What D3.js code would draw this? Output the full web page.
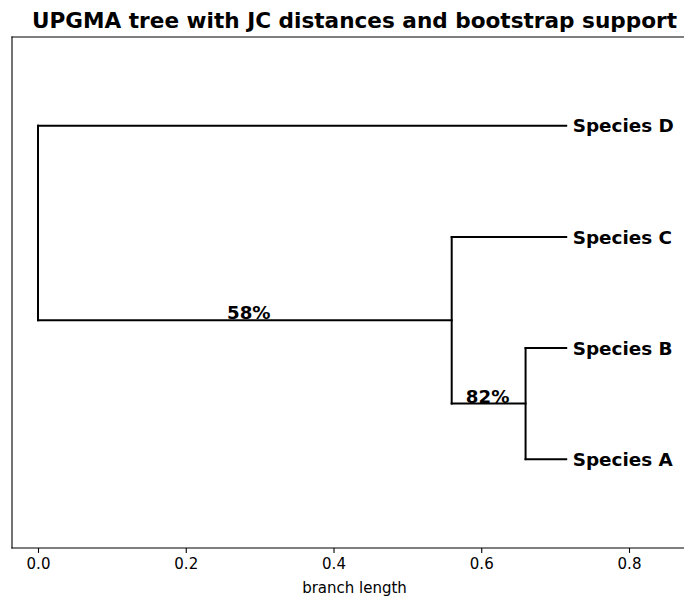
<!DOCTYPE html>
<html>
<head>
<meta charset="utf-8">
<script src="https://cdn.jsdelivr.net/npm/d3@7"></script>
<style>
  html, body { margin: 0; padding: 0; background: #fff; overflow: hidden; }
  svg { display: block; font-family: "DejaVu Sans", sans-serif; }
</style>
</head>
<body>
<svg id="chart" width="684" height="596"></svg>
<script>
// Tree topology: each node with its parent and the length of the branch above it
const nodeIds     = ["root", "ABC", "AB", "Species A", "Species B", "Species C", "Species D"];
const parentIds   = [null,   "root", "ABC", "AB",       "AB",        "ABC",       "root"];
const branchLens  = [0,      0.560,  0.100, 0.055,      0.055,       0.155,       0.715];
// Bootstrap support shown on the branch leading to each clade
const supportNode = ["ABC", "AB"];
const supportPct  = [58, 82];
// Leaf order from the bottom of the plot upwards
const leafOrder   = ["Species A", "Species B", "Species C", "Species D"];
const xTicks      = [0.0, 0.2, 0.4, 0.6, 0.8];

const svg = d3.select("#chart");
// The axes box runs past the right edge of the figure, so only three sides show
const plot = { left: 12, right: 697, top: 37, bottom: 548 };

const x = d3.scaleLinear().domain([0, 0.8]).range([38, 629]);
const y = d3.scaleLinear().domain([-0.8, 3.8]).range([plot.bottom, plot.top]);

// Build the hierarchy and lay it out: x = distance from root, y = leaf rank
const table = nodeIds.map((id, i) => ({ id, parent: parentIds[i], len: branchLens[i] }));
const root = d3.stratify().id(d => d.id).parentId(d => d.parent)(table);
root.eachBefore(n => { n.dist = (n.parent ? n.parent.dist : 0) + n.data.len; });
root.eachAfter(n => {
  if (!n.children) n.yPos = leafOrder.indexOf(n.id);
  else {
    const ys = n.children.map(c => c.yPos);
    n.yPos = (d3.min(ys) + d3.max(ys)) / 2;
  }
});

// Title
svg.append("text")
  .attr("x", (plot.left + plot.right) / 2)
  .attr("y", 28)
  .attr("text-anchor", "middle")
  .attr("font-size", "21.6px")
  .attr("font-weight", "bold")
  .attr("fill", "#000")
  .text("UPGMA tree with JC distances and bootstrap support");

const g = svg.append("g");
const lineColor = "#000";

// Horizontal branches
root.descendants().filter(n => n.parent).forEach(n => {
  g.append("line")
    .attr("x1", x(n.parent.dist)).attr("x2", x(n.dist))
    .attr("y1", y(n.yPos)).attr("y2", y(n.yPos))
    .attr("stroke", lineColor).attr("stroke-width", 2)
    .attr("stroke-linecap", "square");
});

// Vertical connectors at internal nodes
root.descendants().filter(n => n.children).forEach(n => {
  const ys = n.children.map(c => c.yPos);
  g.append("line")
    .attr("x1", x(n.dist)).attr("x2", x(n.dist))
    .attr("y1", y(d3.max(ys))).attr("y2", y(d3.min(ys)))
    .attr("stroke", lineColor).attr("stroke-width", 2)
    .attr("stroke-linecap", "square");
});

// Leaf names
root.leaves().forEach(n => {
  g.append("text")
    .attr("x", x(n.dist) + 6.5)
    .attr("y", y(n.yPos))
    .attr("dy", "0.36em")
    .attr("font-size", "18.4px")
    .attr("font-weight", "bold")
    .attr("fill", "#000")
    .text(n.id);
});

// Bootstrap labels, centred over the supported branch
supportNode.forEach((id, i) => {
  const n = root.find(d => d.id === id);
  g.append("text")
    .attr("x", (x(n.parent.dist) + x(n.dist)) / 2 + (i === 0 ? 4 : -1))
    .attr("y", y(n.yPos) - 1)
    .attr("text-anchor", "middle")
    .attr("font-size", "18.2px")
    .attr("font-weight", "bold")
    .attr("fill", "#000")
    .text(supportPct[i] + "%");
});

// Spines (left, top, bottom; the right one lies outside the figure)
const spines = [
  [plot.left, plot.top, plot.left, plot.bottom],
  [plot.left, plot.top, plot.right, plot.top],
  [plot.left, plot.bottom, plot.right, plot.bottom]
];
svg.append("g").selectAll("line").data(spines).join("line")
  .attr("x1", d => d[0]).attr("y1", d => d[1])
  .attr("x2", d => d[2]).attr("y2", d => d[3])
  .attr("stroke", "#000").attr("stroke-width", 1.1)
  .attr("stroke-linecap", "square");

// Bottom axis
const axis = d3.axisBottom(x).tickValues(xTicks).tickFormat(d3.format(".1f"))
  .tickSize(4.9).tickPadding(5.5);
const ax = svg.append("g").attr("transform", `translate(0,${plot.bottom})`).call(axis);
ax.select(".domain").remove();
ax.selectAll(".tick line").attr("stroke", "#000").attr("stroke-width", 1.1);
ax.selectAll(".tick text")
  .attr("font-size", "15px").attr("font-family", "DejaVu Sans").attr("fill", "#000");

svg.append("text")
  .attr("x", (plot.left + plot.right) / 2)
  .attr("y", 593)
  .attr("text-anchor", "middle")
  .attr("font-size", "15px")
  .attr("fill", "#000")
  .text("branch length");
</script>
</body>
</html>
